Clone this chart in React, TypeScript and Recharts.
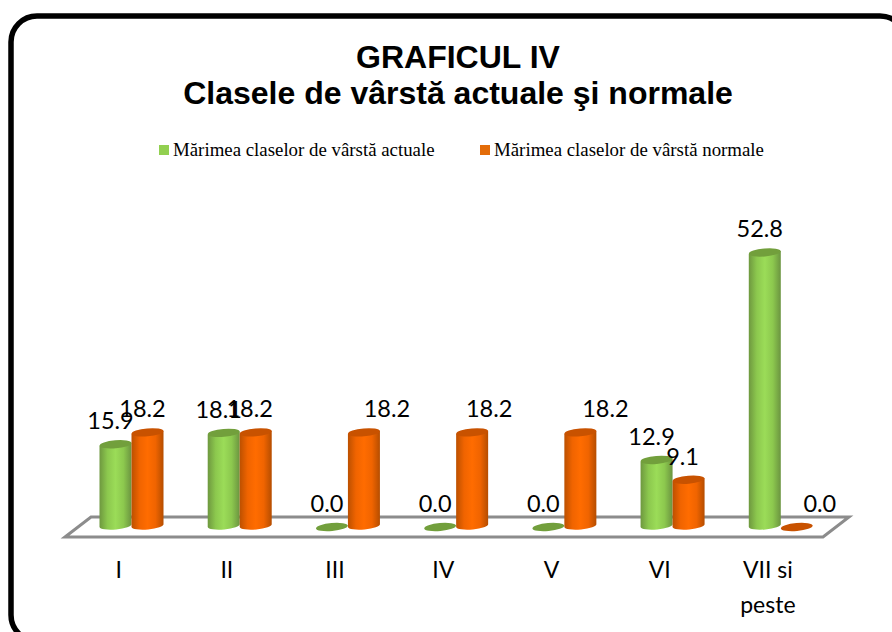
import React from "react";
import { BarChart, Bar, XAxis, YAxis, Legend, LabelList } from "recharts";

const categories = ["I", "II", "III", "IV", "V", "VI", "VII si peste"];
const actualValues = [15.9, 18.1, 0.0, 0.0, 0.0, 12.9, 52.8];
const normalValues = [18.2, 18.2, 18.2, 18.2, 18.2, 9.1, 0.0];
const actualName = "Mărimea claselor de vârstă actuale";
const normalName = "Mărimea claselor de vârstă normale";
const titleLines = ["GRAFICUL IV", "Clasele de vârstă actuale şi normale"];
// Horizontal nudges of the hand-placed value labels in the reference.
const actualLabelNudge = [-5, -5, -5, -5, -5, -5, -5];
const normalLabelNudge = [-5, -6, 23, 17, 25, -6, 23];

const data = categories.map((category, i) => ({
  category,
  actual: actualValues[i],
  normal: normalValues[i],
}));

const GREEN = { fill: "url(#gradGreen)", top: "#729f3c", legend: "#92d050" };
const ORANGE = { fill: "url(#gradOrange)", top: "#c85200", legend: "#e36c09" };

function makeCylinder(colors: { fill: string; top: string }) {
  return function Cylinder(props: any) {
    const { x, y, width, height } = props;
    const rx = width / 2;
    const ry = 4;
    const cx = x + rx;
    const tilt = 1.5;
    const bottom = y + height;
    return (
      <g>
        {height > 0 && (
          <path
            d={`M${x} ${y + tilt} L${x} ${bottom} A${rx} ${ry} -5 0 0 ${x + width} ${bottom - 2 * tilt} L${x + width} ${y - tilt} Z`}
            fill={colors.fill}
          />
        )}
        <ellipse
          cx={cx}
          cy={y}
          rx={rx}
          ry={ry}
          fill={colors.top}
          transform={`rotate(-5 ${cx} ${y})`}
        />
      </g>
    );
  };
}

const GreenCylinder = makeCylinder(GREEN);
const OrangeCylinder = makeCylinder(ORANGE);

function makeBarLabel(nudges: number[]) {
  return function BarLabel(props: any) {
    const { x, y, width, value, index } = props;
    return (
      <text
        x={x + width / 2 + nudges[index]}
        y={y - 15}
        textAnchor="middle"
        fontFamily="Lato, sans-serif"
        fontSize={23.5}
        fill="#000"
      >
        {Number(value).toFixed(1)}
      </text>
    );
  };
}

const ActualLabel = makeBarLabel(actualLabelNudge);
const NormalLabel = makeBarLabel(normalLabelNudge);

function CategoryTick(props: any) {
  const { x, y, payload } = props;
  const words = String(payload.value).split(" ");
  const lines = words.length > 1 ? [words.slice(0, -1).join(" "), words[words.length - 1]] : words;
  return (
    <text x={x - 13} y={y} textAnchor="middle" fontFamily="Lato, sans-serif" fontSize={23} fill="#000">
      {lines.map((line, i) => (
        <tspan key={i} x={x - 13} dy={i === 0 ? 0 : 35}>
          {line}
        </tspan>
      ))}
    </text>
  );
}

function LegendContent(props: any) {
  const { payload } = props;
  const lefts = [159, 480];
  return (
    <div style={{ position: "relative", height: 20 }}>
      {(payload || []).map((entry: any, i: number) => (
        <div
          key={entry.value}
          style={{
            position: "absolute",
            left: lefts[i],
            top: 0,
            whiteSpace: "nowrap",
            fontFamily: "'Liberation Serif', serif",
            fontSize: 18.85,
            lineHeight: "20px",
            color: "#000",
          }}
        >
          <span
            style={{
              display: "inline-block",
              width: 10,
              height: 10,
              background: entry.color,
              marginRight: 4,
              verticalAlign: "1px",
            }}
          />
          {entry.value}
        </div>
      ))}
    </div>
  );
}

export default function App() {
  return (
    <div style={{ position: "absolute", left: 0, top: 0, width: 892, height: 632, overflow: "hidden", background: "#fff" }}>
      <svg width={892} height={632} style={{ position: "absolute", left: 0, top: 0 }}>
        <rect x={11} y={16} width={895} height={625} rx={26} fill="#fff" stroke="#000" strokeWidth={5.5} />
        <path d="M65 537 L91 517 L849 517 L823 537 Z" fill="#fff" stroke="#8c8c8c" strokeWidth={3} />
        {titleLines.map((line, i) => (
          <text
            key={line}
            x={458}
            y={68 + i * 36}
            textAnchor="middle"
            fontFamily="'Liberation Sans', sans-serif"
            fontWeight="bold"
            fontSize={32}
            fill="#000"
          >
            {line}
          </text>
        ))}
      </svg>
      <div style={{ position: "absolute", left: 0, top: 0 }}>
        <BarChart
          width={892}
          height={632}
          data={data}
          margin={{ top: 195, right: 57, bottom: 75, left: 77.5 }}
          barSize={32}
          barGap={0}
        >
          <defs>
            <linearGradient id="gradGreen" x1="0" x2="1" y1="0" y2="0">
              <stop offset="0" stopColor="#6e983f" />
              <stop offset="0.25" stopColor="#8cc84e" />
              <stop offset="0.5" stopColor="#9bdc58" />
              <stop offset="0.75" stopColor="#8cc84e" />
              <stop offset="1" stopColor="#6b9440" />
            </linearGradient>
            <linearGradient id="gradOrange" x1="0" x2="1" y1="0" y2="0">
              <stop offset="0" stopColor="#bc5000" />
              <stop offset="0.25" stopColor="#f06400" />
              <stop offset="0.5" stopColor="#ff6c00" />
              <stop offset="0.75" stopColor="#f06400" />
              <stop offset="1" stopColor="#b54d00" />
            </linearGradient>
          </defs>
          <XAxis
            dataKey="category"
            axisLine={false}
            tickLine={false}
            tick={<CategoryTick />}
            interval={0}
            tickMargin={45}
          />
          <YAxis hide domain={[0, 60]} />
          <Legend
            verticalAlign="top"
            align="left"
            content={<LegendContent />}
            wrapperStyle={{ position: "absolute", top: 140, left: 0, width: 892 }}
          />
          <Bar dataKey="actual" name={actualName} fill={GREEN.legend} shape={<GreenCylinder />} isAnimationActive={false}>
            <LabelList dataKey="actual" content={<ActualLabel />} />
          </Bar>
          <Bar dataKey="normal" name={normalName} fill={ORANGE.legend} shape={<OrangeCylinder />} isAnimationActive={false}>
            <LabelList dataKey="normal" content={<NormalLabel />} />
          </Bar>
        </BarChart>
      </div>
    </div>
  );
}
